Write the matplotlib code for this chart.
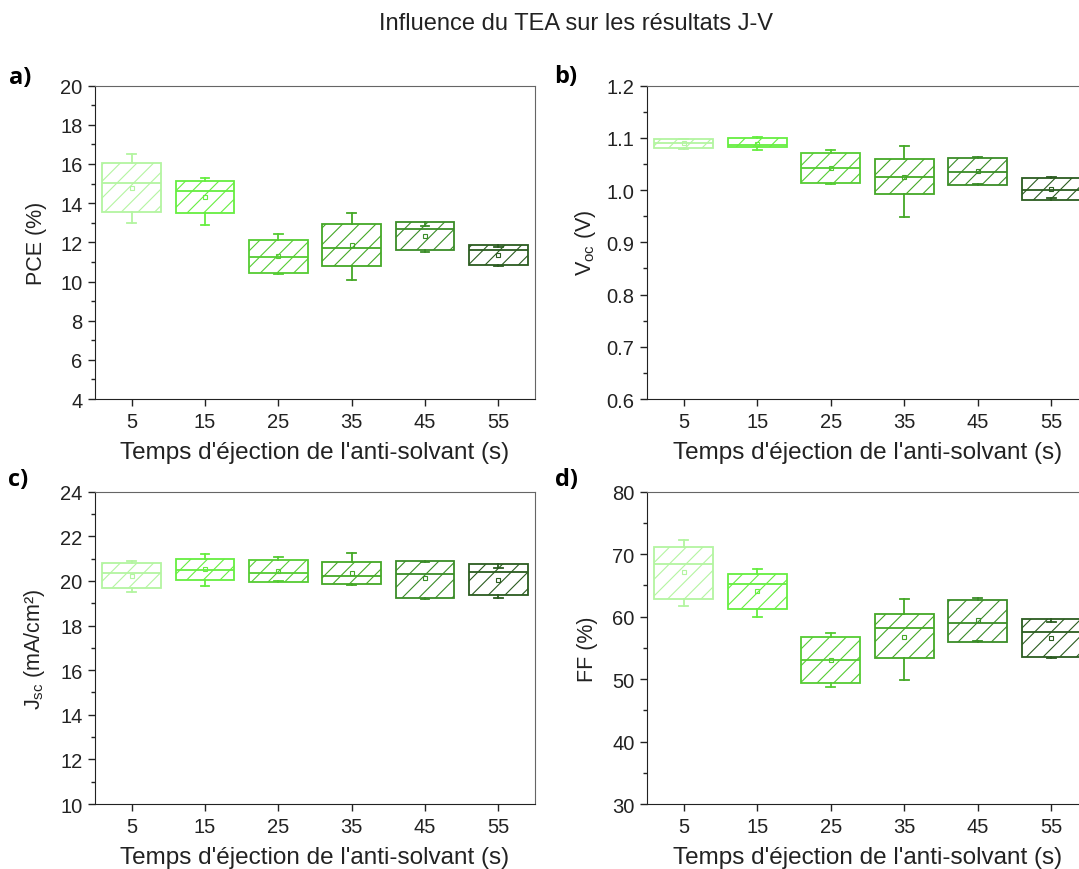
import matplotlib
matplotlib.use('Agg')
import matplotlib.pyplot as plt
from matplotlib.ticker import MultipleLocator, FormatStrFormatter

plt.rcParams['font.family'] = ['Liberation Sans', 'DejaVu Sans']
plt.rcParams['mathtext.default'] = 'regular'
plt.rcParams['hatch.linewidth'] = 0.8

# temps d'ejection (s)
times = [5, 15, 25, 35, 45, 55]
tick_labels = ['5', '15', '25', '35', '45', '55']
colors = ['#b3f5a0', '#66ee40', '#55cc33', '#44a826', '#3a8c28', '#2b5c20']

# PCE (%)
pce_q1 = [13.53, 13.48, 10.45, 10.81, 11.61, 10.86]
pce_med = [15.03, 14.62, 11.24, 11.73, 12.68, 11.61]
pce_q3 = [16.04, 15.12, 12.14, 12.92, 13.02, 11.88]
pce_lo = [12.99, 12.89, 10.38, 10.09, 11.52, 10.79]
pce_hi = [16.50, 15.27, 12.44, 13.48, 12.85, 11.75]
pce_mean = [14.77, 14.30, 11.32, 11.87, 12.33, 11.36]

# Voc (V)
voc_q1 = [1.081, 1.083, 1.013, 0.992, 1.009, 0.982]
voc_med = [1.091, 1.087, 1.042, 1.026, 1.034, 1.000]
voc_q3 = [1.097, 1.099, 1.072, 1.060, 1.062, 1.023]
voc_lo = [1.079, 1.076, 1.011, 0.948, 1.011, 0.984]
voc_hi = [1.097, 1.101, 1.077, 1.085, 1.063, 1.025]
voc_mean = [1.090, 1.089, 1.042, 1.026, 1.037, 1.002]

# Jsc (mA/cm2)
jsc_q1 = [19.68, 20.05, 19.94, 19.87, 19.23, 19.35]
jsc_med = [20.37, 20.50, 20.35, 20.20, 20.29, 20.41]
jsc_q3 = [20.82, 20.98, 20.95, 20.86, 20.89, 20.77]
jsc_lo = [19.52, 19.76, 20.00, 19.82, 19.17, 19.25]
jsc_hi = [20.89, 21.22, 21.07, 21.26, 20.83, 20.59]
jsc_mean = [20.23, 20.55, 20.44, 20.37, 20.11, 20.05]

# FF (%)
ff_q1 = [62.8, 61.2, 49.4, 53.3, 55.9, 53.6]
ff_med = [68.4, 65.3, 53.1, 58.1, 59.0, 57.6]
ff_q3 = [71.2, 66.8, 56.8, 60.4, 62.7, 59.6]
ff_lo = [61.7, 60.0, 48.7, 49.9, 56.1, 53.4]
ff_hi = [72.2, 67.6, 57.4, 62.8, 62.9, 59.2]
ff_mean = [67.1, 64.1, 53.0, 56.8, 59.4, 56.6]

xlabel = "Temps d'éjection de l'anti-solvant (s)"


def draw_panel(ax, q1, med, q3, lo, hi, mean, ylim, major, minor, ylabel, fmt=None):
    for i in range(len(times)):
        c = colors[i]
        st = {'q1': q1[i], 'med': med[i], 'q3': q3[i], 'whislo': lo[i],
              'whishi': hi[i], 'mean': mean[i], 'fliers': []}
        ax.bxp([st], positions=[times[i]], widths=8, capwidths=1.2,
               patch_artist=True, showmeans=True, showfliers=False,
               manage_ticks=False,
               boxprops=dict(facecolor='white', edgecolor=c, hatch='//', linewidth=1.3),
               medianprops=dict(color=c, linewidth=1.3),
               whiskerprops=dict(color=c, linewidth=1.3),
               capprops=dict(color=c, linewidth=1.3),
               meanprops=dict(marker='s', markersize=2.5, markeredgecolor=c,
                              markerfacecolor='none', markeredgewidth=0.8))
    ax.set_xlim(0, 60)
    ax.set_ylim(*ylim)
    ax.set_xticks(times)
    ax.set_xticklabels(tick_labels)
    ax.yaxis.set_major_locator(MultipleLocator(major))
    ax.yaxis.set_minor_locator(MultipleLocator(minor))
    if fmt:
        ax.yaxis.set_major_formatter(FormatStrFormatter(fmt))
    ax.tick_params(axis='both', which='major', direction='out', length=5, width=1,
                   labelsize=14.5, colors='#222222', pad=4)
    ax.tick_params(axis='y', which='minor', direction='out', length=3, width=1, colors='#222222')
    ax.tick_params(top=False, right=False)
    for s in ['left', 'bottom']:
        ax.spines[s].set_color('#222222')
    for s in ['top', 'right']:
        ax.spines[s].set_color('#666666')
    ax.set_ylabel(ylabel, fontsize=15.5, color='#222222')
    ax.set_xlabel(xlabel, fontsize=17.5, color='#222222')
    ax.yaxis.set_label_coords(-0.11, 0.5)
    ax.xaxis.set_label_coords(0.5, -0.133)


fig = plt.figure(figsize=(10.79, 8.70), dpi=100)
ax_a = fig.add_axes([0.0880, 0.5402, 0.4078, 0.3602])
ax_b = fig.add_axes([0.5996, 0.5402, 0.4087, 0.3602])
ax_c = fig.add_axes([0.0880, 0.0747, 0.4078, 0.3590])
ax_d = fig.add_axes([0.5996, 0.0747, 0.4087, 0.3590])

draw_panel(ax_a, pce_q1, pce_med, pce_q3, pce_lo, pce_hi, pce_mean, (4, 20), 2, 1, 'PCE (%)')
draw_panel(ax_b, voc_q1, voc_med, voc_q3, voc_lo, voc_hi, voc_mean, (0.6, 1.2), 0.1, 0.05,
           'V$_{oc}$ (V)', fmt='%.1f')
draw_panel(ax_c, jsc_q1, jsc_med, jsc_q3, jsc_lo, jsc_hi, jsc_mean, (10, 24), 2, 1,
           'J$_{sc}$ (mA/cm²)')
draw_panel(ax_d, ff_q1, ff_med, ff_q3, ff_lo, ff_hi, ff_mean, (30, 80), 10, 5, 'FF (%)')

fig.text(0.534, 0.972, 'Influence du TEA sur les résultats J-V', ha='center', va='center',
         fontsize=17, color='#222222')
for lab, x, y in [('a)', 0.008, 0.91), ('b)', 0.514, 0.911), ('c)', 0.007, 0.448), ('d)', 0.514, 0.448)]:
    fig.text(x, y, lab, fontsize=17, fontweight='bold', family='Open Sans', ha='left', va='center')

fig.savefig('out.png', dpi=100)
